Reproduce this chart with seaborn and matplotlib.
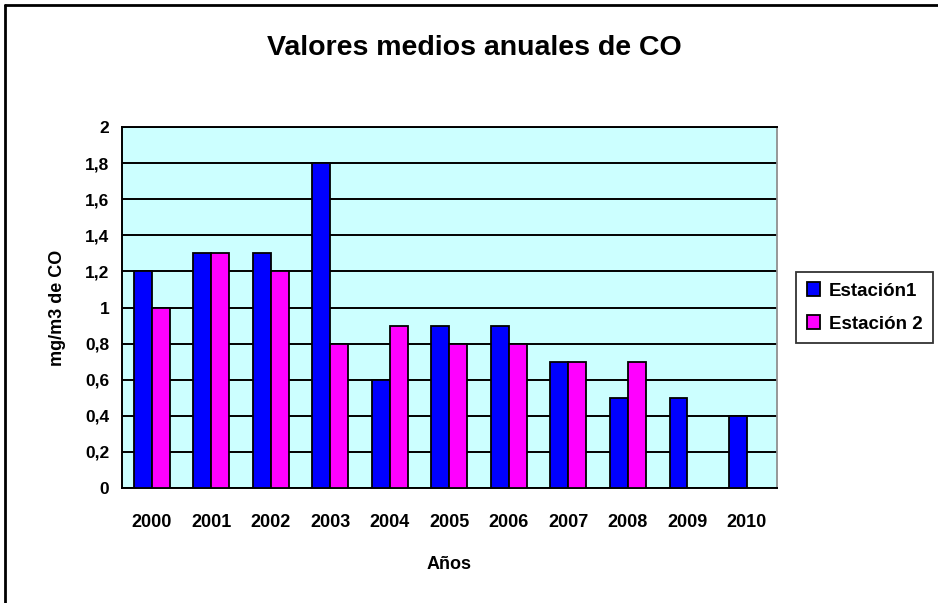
import matplotlib
matplotlib.use("Agg")
import matplotlib.pyplot as plt
import seaborn as sns
import pandas as pd
import numpy as np
from matplotlib.lines import Line2D

years = ["2000", "2001", "2002", "2003", "2004", "2005", "2006", "2007", "2008", "2009", "2010"]
estacion1 = [1.2, 1.3, 1.3, 1.8, 0.6, 0.9, 0.9, 0.7, 0.5, 0.5, 0.4]
estacion2 = [1.0, 1.3, 1.2, 0.8, 0.9, 0.8, 0.8, 0.7, 0.7, np.nan, np.nan]
series_names = ["Estación1", "Estación 2"]
yticks = [0, 0.2, 0.4, 0.6, 0.8, 1.0, 1.2, 1.4, 1.6, 1.8, 2.0]
ytick_labels = ["0", "0,2", "0,4", "0,6", "0,8", "1", "1,2", "1,4", "1,6", "1,8", "2"]

df = pd.DataFrame({
    "Año": years * 2,
    "valor": estacion1 + estacion2,
    "serie": [series_names[0]] * len(years) + [series_names[1]] * len(years),
})

sns.set_style("white")
plt.rcParams["font.family"] = ["Liberation Sans", "DejaVu Sans"]
plt.rcParams["text.color"] = "black"
plt.rcParams["axes.labelcolor"] = "black"
plt.rcParams["xtick.color"] = "black"
plt.rcParams["ytick.color"] = "black"

fig = plt.figure(figsize=(9.38, 6.03), dpi=100)
ax = fig.add_axes([0.130, 0.191, 0.698, 0.598])
ax.set_facecolor("#CCFFFF")

sns.barplot(data=df, x="Año", y="valor", hue="serie", order=years,
            palette=["#0000FF", "#FF00FF"], saturation=1, width=0.6, gap=0,
            edgecolor="black", linewidth=1.3, ax=ax, legend=True, zorder=3)

ax.set_ylim(0, 2)
ax.set_xlim(-0.5, len(years) - 0.5)
ax.set_yticks(yticks)
ax.set_yticklabels(ytick_labels, fontsize=12.5, fontweight="bold")
ax.set_xticks(np.arange(len(years)))
ax.set_xticklabels(years, fontsize=13, fontweight="bold")
ax.set_xticks(np.arange(len(years) + 1) - 0.5, minor=True)
ax.tick_params(axis="x", which="major", length=0, pad=19)
ax.tick_params(axis="x", which="minor", length=5, width=1.2, color="black", direction="out")
ax.tick_params(axis="y", length=5, width=1.2, color="black", direction="out", pad=4)
ax.yaxis.grid(True, color="black", linewidth=1.4, zorder=1)
ax.set_axisbelow(True)

for s in ["left", "bottom", "top"]:
    ax.spines[s].set_color("black")
    ax.spines[s].set_linewidth(1.4)
ax.spines["right"].set_color("#909090")
ax.spines["right"].set_linewidth(1.3)

ax.set_xlabel("Años", fontsize=13, fontweight="bold", labelpad=18)
ax.set_ylabel("mg/m3 de CO", fontsize=13, fontweight="bold", labelpad=14)

fig.text(0.506, 0.921, "Valores medios anuales de CO", ha="center", va="center",
         fontsize=20.5, fontweight="bold")

leg = ax.legend(loc="center left", bbox_to_anchor=(1.03, 0.5), frameon=True,
                fancybox=False, edgecolor="black",
                prop={"weight": "bold", "size": 13.5}, handlelength=0.7,
                handleheight=0.7, handletextpad=0.5, borderpad=0.55,
                labelspacing=0.85, borderaxespad=0)
leg.get_frame().set_linewidth(1.3)

fig.add_artist(Line2D([0.0055, 0.0055], [0.0, 0.992], transform=fig.transFigure,
                      color="black", linewidth=2))
fig.add_artist(Line2D([0.0055, 1.0], [0.992, 0.992], transform=fig.transFigure,
                      color="black", linewidth=2))

fig.savefig("out.png", dpi=100)
